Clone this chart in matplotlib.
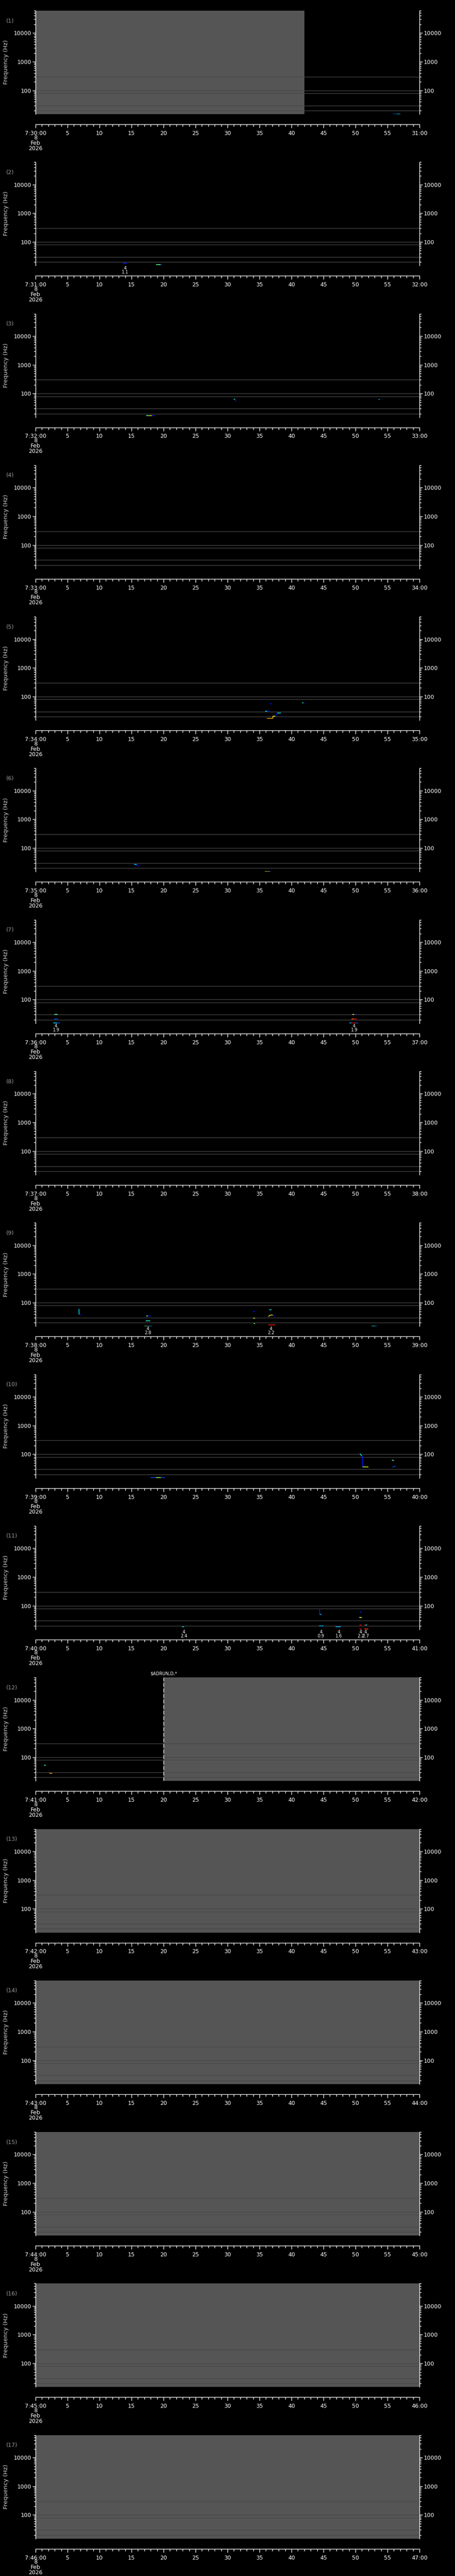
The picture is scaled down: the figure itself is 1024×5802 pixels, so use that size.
import matplotlib
matplotlib.use('Agg')
import matplotlib.pyplot as plt
import matplotlib.transforms as mtransforms
from matplotlib.ticker import FixedLocator, LogLocator, NullFormatter, FixedFormatter

# one panel per minute, 7:30 .. 7:46 on 8 Feb 2026
panel_minutes = list(range(30, 47))
date_lines = ['8', 'Feb', '2026']
x_major = list(range(0, 61, 5))
y_major = [100, 1000, 10000]
y_range = (15, 60000)

# fixed reference frequencies (Hz) drawn across every panel
ref_lines_hz = [20, 30, 80, 100, 300]

# no-data (grey) spans: panel, start s, end s
nodata_spans = [(0, 0, 42), (11, 20, 60), (12, 0, 60), (13, 0, 60),
                (14, 0, 60), (15, 0, 60), (16, 0, 60)]

# detected traces: panel, t0, t1, f0 (Hz), f1 (Hz), level (0..1 on jet)
marks = [
    (0, 55.8, 56.4, 15.2, 15.2, 0.2), (0, 56.4, 57.0, 15.2, 15.2, 0.35),
    (1, 13.6, 14.3, 18.3, 18.3, 0.15),
    (1, 18.8, 19.2, 16.0, 16.0, 0.4), (1, 19.2, 19.5, 16.0, 16.0, 0.55), (1, 19.5, 19.7, 16.0, 16.0, 0.2),
    (2, 17.3, 17.7, 16.9, 16.9, 0.45), (2, 17.7, 18.2, 16.9, 16.9, 0.7), (2, 18.2, 18.6, 16.9, 16.9, 0.15),
    (2, 31.0, 31.2, 63.7, 63.7, 0.4), (2, 31.2, 31.3, 63.7, 52.7, 0.15),
    (2, 53.6, 53.8, 63.0, 61.0, 0.3),
    (4, 36.6, 36.9, 57.3, 57.3, 0.15),
    (4, 41.7, 41.85, 61.5, 61.5, 0.4), (4, 41.85, 42.0, 61.5, 56.6, 0.15),
    (4, 35.9, 36.2, 30.9, 30.9, 0.35), (4, 36.2, 36.6, 30.9, 30.4, 0.15),
    (4, 36.2, 37.07, 17.1, 17.1, 0.75), (4, 37.07, 37.07, 17.1, 20.9, 0.7),
    (4, 37.07, 37.47, 20.9, 20.9, 0.6), (4, 37.47, 37.8, 20.9, 26.8, 0.15),
    (4, 37.8, 38.3, 27.1, 27.1, 0.35),
    (5, 15.4, 15.8, 26.8, 26.8, 0.35), (5, 15.8, 15.8, 26.8, 24.1, 0.15), (5, 15.8, 16.3, 24.1, 24.1, 0.12),
    (5, 35.8, 36.2, 15.2, 15.2, 0.55), (5, 36.2, 36.6, 15.2, 15.2, 0.7), (5, 36.6, 36.8, 15.2, 15.2, 0.2),
    (6, 2.9, 3.5, 30.5, 30.5, 0.45),
    (6, 2.9, 3.5, 21.4, 21.4, 0.2),
    (6, 2.8, 3.3, 15.2, 15.2, 0.35), (6, 3.3, 3.8, 15.2, 15.2, 0.2),
    (6, 49.5, 49.8, 30.5, 30.5, 0.65), (6, 49.8, 50.1, 30.5, 30.5, 0.2),
    (6, 49.4, 49.7, 21.4, 21.4, 0.8), (6, 49.7, 50.2, 21.4, 21.4, 0.9),
    (6, 49.0, 49.4, 15.2, 15.2, 0.3), (6, 49.4, 50.0, 15.2, 15.2, 0.92), (6, 50.0, 50.4, 15.2, 15.2, 0.2),
    (8, 6.78, 6.8, 60.8, 38.7, 0.35), (8, 6.85, 7.1, 38.3, 38.3, 0.15),
    (8, 17.3, 17.6, 34.4, 34.4, 0.5), (8, 17.6, 18.0, 34.4, 34.4, 0.15),
    (8, 17.2, 17.9, 23.2, 23.2, 0.4),
    (8, 17.0, 17.5, 15.2, 15.2, 0.5), (8, 17.5, 18.2, 15.2, 15.2, 0.3),
    (8, 34.0, 34.3, 48.5, 48.5, 0.15),
    (8, 34.0, 34.3, 28.4, 28.4, 0.6),
    (8, 34.1, 34.3, 18.8, 18.8, 0.5),
    (8, 36.5, 36.9, 56.6, 56.6, 0.35),
    (8, 36.4, 36.7, 33.2, 36.9, 0.6), (8, 36.7, 37.1, 36.9, 36.9, 0.7), (8, 37.1, 37.4, 36.9, 34.4, 0.15),
    (8, 36.4, 37.4, 16.9, 16.9, 0.88),
    (8, 52.5, 53.1, 15.2, 15.2, 0.4), (8, 53.1, 53.5, 15.2, 15.2, 0.2),
    (9, 18.0, 18.8, 15.3, 15.3, 0.2), (9, 18.8, 19.6, 15.3, 15.3, 0.55), (9, 19.6, 20.2, 15.3, 15.3, 0.2),
    (9, 50.7, 51.0, 104.9, 85.7, 0.35), (9, 51.1, 51.1, 85.7, 36.5, 0.15), (9, 51.1, 52.0, 36.0, 36.0, 0.6),
    (9, 55.7, 56.0, 63.7, 58.6, 0.45),
    (9, 55.8, 56.3, 35.6, 38.7, 0.2),
    (10, 22.9, 23.2, 18.8, 18.8, 0.35),
    (10, 44.36, 44.4, 76.1, 50.8, 0.15), (10, 44.4, 44.7, 50.8, 49.1, 0.3),
    (10, 44.3, 45.0, 20.2, 20.2, 0.3),
    (10, 46.9, 47.7, 18.3, 18.3, 0.3),
    (10, 50.7, 51.0, 65.3, 56.6, 0.15),
    (10, 50.6, 51.0, 39.6, 38.3, 0.65),
    (10, 50.6, 51.0, 21.6, 21.6, 0.9),
    (10, 51.4, 51.6, 21.6, 21.6, 0.85), (10, 51.6, 51.8, 21.6, 21.6, 0.35),
    (10, 50.6, 51.0, 15.3, 15.3, 0.9),
    (10, 51.4, 52.0, 15.3, 15.3, 0.85),
    (11, 1.34, 1.61, 52.7, 52.7, 0.4),
    (11, 2.15, 2.61, 27.8, 27.3, 0.75),
]

# event labels under the traces: panel, t, code, value
events = [
    (1, 14.0, '4', '1.1'),
    (6, 3.2, '4', '1.9'), (6, 49.8, '4', '1.9'),
    (8, 17.56, '4', '2.8'), (8, 36.8, '4', '2.2'),
    (10, 23.2, '4', '2.4'), (10, 44.6, '4', '0.9'), (10, 47.4, '4', '1.6'),
    (10, 50.8, '4', '2.2'), (10, 51.6, '4', '2.7'),
]

# restart marker: panel, t, text
markers = [(11, 20, '$ADRUN,D,*')]

W, H = 1024, 5802
pitch = H / len(panel_minutes)
fig = plt.figure(figsize=(W / 100, H / 100), dpi=100, facecolor='black')
cmap = plt.get_cmap('jet')
px = 72 / 100  # points per pixel

for k, minute in enumerate(panel_minutes):
    top = 24 + pitch * k
    ax = fig.add_axes([80 / W, 1 - (top + 233) / H, 864 / W, 233 / H])
    ax.set_facecolor('black')
    ax.set_yscale('log')
    ax.set_xlim(0, 60)
    ax.set_ylim(*y_range)

    for p, t0, t1 in nodata_spans:
        if p == k:
            ax.axvspan(t0, t1, color='#555555', lw=0, zorder=1)
    for f in ref_lines_hz:
        ax.axhline(f, color='#474747', lw=1.0, zorder=2)
    for p, t0, t1, f0, f1, lev in marks:
        if p == k:
            ax.plot([t0, t1], [f0, f1], color=cmap(lev), lw=1.2,
                    solid_capstyle='butt', zorder=3)
    for p, t, code, val in events:
        if p == k:
            ax.annotate(code, xy=(t, 0), xycoords=('data', 'axes fraction'),
                        xytext=(0, -6 * px), textcoords='offset points',
                        ha='center', va='center', color='white', fontsize=7)
            ax.annotate(val, xy=(t, 0), xycoords=('data', 'axes fraction'),
                        xytext=(0, -15 * px), textcoords='offset points',
                        ha='center', va='center', color='white', fontsize=7)
    for p, t, txt in markers:
        if p == k:
            ax.axvline(t, color='white', lw=1.0, ls=(0, (6, 3)), zorder=4)
            ax.annotate(txt, xy=(t, 1), xycoords=('data', 'axes fraction'),
                        xytext=(0, 3), textcoords='offset points',
                        ha='center', va='bottom', color='white', fontsize=7)

    # spines: left/right frame the plot, bottom is the detached time axis
    ax.spines['top'].set_visible(False)
    for side in ['left', 'right', 'bottom']:
        ax.spines[side].set_color('white')
        ax.spines[side].set_linewidth(1.0)
    ax.spines['bottom'].set_position(('outward', 23 * px))

    ax.yaxis.set_major_locator(FixedLocator(y_major))
    ax.yaxis.set_major_formatter(FixedFormatter([str(v) for v in y_major]))
    ax.yaxis.set_minor_locator(LogLocator(base=10, subs=range(2, 10)))
    ax.yaxis.set_minor_formatter(NullFormatter())
    ax.tick_params(axis='y', which='both', left=True, right=True,
                   labelleft=True, labelright=True, direction='out',
                   colors='white', labelsize=9, width=1.0)
    ax.tick_params(axis='y', which='major', length=5, pad=2)
    ax.tick_params(axis='y', which='minor', length=3)

    xlabels = ['7:%02d:00' % minute] + [str(s) for s in x_major[1:-1]] + ['%02d:00' % (minute + 1)]
    ax.set_xticks(x_major)
    ax.set_xticklabels(xlabels)
    ax.set_xticks(range(0, 61), minor=True)
    ax.tick_params(axis='x', which='both', direction='out', colors='white',
                   labelsize=9, width=1.0)
    ax.tick_params(axis='x', which='major', length=6, pad=4)
    ax.tick_params(axis='x', which='minor', length=3.5)

    trans = mtransforms.blended_transform_factory(ax.transData, fig.transFigure)
    for i, line in enumerate(date_lines):
        ax.text(0, 1 - (top + 233 + 53 + 12 * i) / H, line, transform=trans,
                ha='center', va='center', color='white', fontsize=9)

    fig.text(14 / W, 1 - (top + 23) / H, '(%d)' % (k + 1), color='#9a9a9a',
             fontsize=9, ha='left', va='center')
    fig.text(14 / W, 1 - (top + 116) / H, 'Frequency (Hz)', color='#d0d0d0',
             fontsize=9.5, rotation=90, ha='center', va='center')

fig.savefig('out.png', dpi=100, facecolor='black')
